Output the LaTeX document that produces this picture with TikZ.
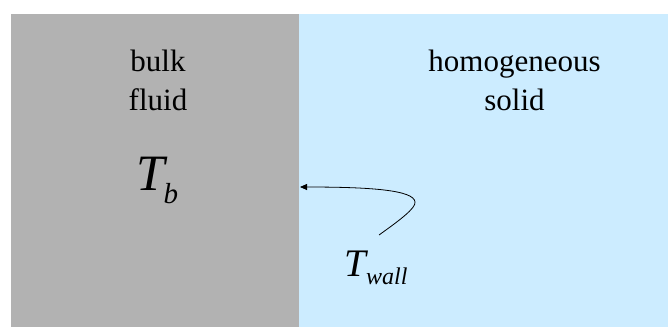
\documentclass[tikz,border=0pt]{standalone}
\usepackage{fontspec}
\setmainfont{Liberation Serif}
\usetikzlibrary{arrows.meta}
\definecolor{fluidgray}{HTML}{B2B2B2}
\definecolor{solidblue}{HTML}{CCECFF}
\newcommand{\tsym}[5]{\textit{T}\kern#5\raisebox{#3}{\fontsize{#2}{#2}\selectfont\textit{#4}}}
\tikzset{
  region/.style={draw=none,rectangle,inner sep=0pt,minimum height=313pt,anchor=north west},
  words/.style={align=center,inner sep=0pt,anchor=north,font=\fontsize{31}{39.3}\selectfont},
  temp/.style={inner sep=0pt,anchor=base west},
  pointer/.style={-{Triangle[length=7pt,width=6pt]},line width=0.8pt,draw=black},
}
\begin{document}
\begin{tikzpicture}[x=1pt,y=1pt]
  \useasboundingbox (0,0) rectangle (668,-327);
  \node[region,fill=fluidgray,minimum width=288pt] (fluid) at (11,-14) {};
  \node[region,fill=solidblue,minimum width=369pt] (solid) at (299,-14) {};
  \node[words] (bulk) at (158,-49.5) {bulk\\fluid};
  \node[words] (homog) at (514.5,-49.5) {homogeneous\\solid};
  \node[temp,font=\fontsize{51}{51}\selectfont] (tb) at (136,-190) {\tsym{51}{29}{-0.26em}{b}{-4pt}};
  \node[temp,font=\fontsize{39}{39}\selectfont] (twall) at (344,-276) {\tsym{39}{24}{-0.22em}{wall}{-2pt}};
  \coordinate (tail) at (379,-235);
  \coordinate (wallpt) at (300,-187);
  \draw[pointer] (tail) .. controls (400,-220) and (416,-208) .. (415,-202)
    .. controls (414,-190) and (370,-187) .. (wallpt);
\end{tikzpicture}
\end{document}
